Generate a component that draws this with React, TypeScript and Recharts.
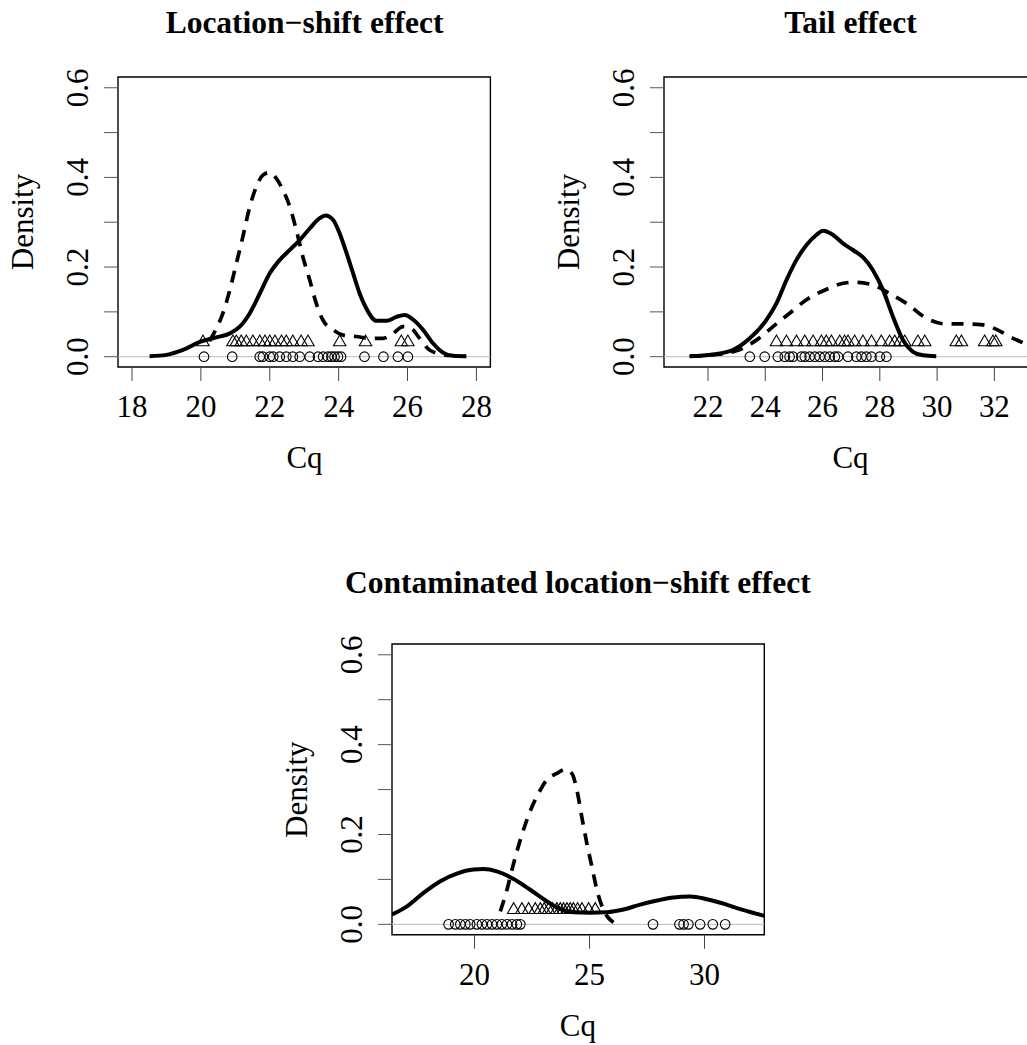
import React from 'react';
import { ComposedChart, Line, Scatter, XAxis, YAxis, ReferenceLine, ReferenceArea } from 'recharts';

// ---------- data ----------
const p1Title = 'Location\u2212shift effect';
const p2Title = 'Tail effect';
const p3Title = 'Contaminated location\u2212shift effect';
const xLabel = 'Cq';
const yLabel = 'Density';

const yTicks = [0, 0.1, 0.2, 0.3, 0.4, 0.5, 0.6];
const p1XTicks = [18, 20, 22, 24, 26, 28];
const p2XTicks = [22, 24, 26, 28, 30, 32];
const p3XTicks = [20, 25, 30];

const p1Solid = [[18.51,0.001],[19.0,0.004],[19.48,0.015],[19.97,0.033],[20.45,0.043],[20.84,0.052],[21.13,0.067],[21.42,0.097],[21.71,0.141],[22.0,0.186],[22.29,0.216],[22.58,0.238],[22.87,0.26],[23.16,0.286],[23.45,0.309],[23.62,0.315],[23.84,0.305],[24.03,0.275],[24.23,0.231],[24.42,0.186],[24.61,0.141],[24.8,0.108],[25.1,0.08],[25.39,0.08],[25.68,0.089],[25.92,0.093],[26.16,0.083],[26.45,0.06],[26.74,0.03],[27.03,0.009],[27.32,0.002],[27.71,0.001]];
const p1Dashed = [[20.25,0.035],[20.45,0.063],[20.64,0.097],[20.84,0.149],[21.03,0.208],[21.22,0.268],[21.42,0.335],[21.61,0.379],[21.8,0.405],[22.0,0.411],[22.19,0.398],[22.38,0.372],[22.58,0.335],[22.77,0.283],[22.96,0.223],[23.16,0.171],[23.35,0.119],[23.54,0.082],[23.84,0.06],[24.13,0.048],[24.51,0.045],[24.9,0.041],[25.29,0.041],[25.58,0.052],[25.87,0.067],[26.11,0.063],[26.35,0.041],[26.64,0.015],[27.2,0.002]];
const p1Circles = [20.09,20.91,21.71,21.8,22.0,22.1,22.29,22.48,22.67,22.87,23.16,23.4,23.55,23.69,23.79,23.88,23.98,24.07,24.75,25.3,25.72,26.01];
const p1Triangles = [20.06,20.93,21.03,21.17,21.32,21.51,21.71,21.86,22.0,22.15,22.34,22.48,22.67,22.91,23.11,24.03,24.78,25.82,26.01];

const p2Solid = [[21.36,0.001],[22.17,0.005],[22.87,0.015],[23.46,0.041],[24.04,0.082],[24.39,0.119],[24.74,0.171],[25.09,0.216],[25.44,0.249],[25.79,0.272],[26.02,0.281],[26.36,0.272],[26.71,0.253],[27.06,0.238],[27.41,0.222],[27.76,0.193],[28.11,0.149],[28.46,0.089],[28.81,0.037],[29.16,0.011],[29.51,0.003],[29.97,0.001]];
const p2Dashed = [[21.36,0.001],[22.17,0.004],[22.99,0.013],[23.69,0.037],[24.27,0.067],[24.85,0.097],[25.44,0.127],[26.13,0.15],[26.83,0.165],[27.18,0.166],[27.76,0.16],[28.34,0.141],[28.93,0.119],[29.62,0.086],[30.32,0.073],[31.02,0.073],[31.6,0.071],[32.07,0.061],[32.53,0.045],[33.0,0.031],[33.4,0.02]];
const p2Circles = [23.46,23.98,24.44,24.68,24.85,24.97,25.26,25.38,25.55,25.73,25.9,26.08,26.25,26.43,26.54,26.89,27.18,27.36,27.53,27.71,28.0,28.23];
const p2Triangles = [24.39,24.74,25.09,25.38,25.67,25.96,26.13,26.31,26.6,26.77,26.89,27.12,27.41,27.71,28.05,28.34,28.52,28.69,28.87,29.33,29.57,30.67,30.85,31.66,31.95,32.05];

const p3Solid = [[16.41,0.022],[17.06,0.04],[17.78,0.07],[18.51,0.096],[19.23,0.113],[19.96,0.122],[20.39,0.123],[20.97,0.118],[21.7,0.101],[22.42,0.077],[23.15,0.051],[23.73,0.034],[24.3,0.027],[25.03,0.026],[25.75,0.027],[26.48,0.033],[27.2,0.044],[27.93,0.053],[28.65,0.06],[29.38,0.062],[30.1,0.056],[30.83,0.046],[31.55,0.034],[32.6,0.019]];
const p3Dashed = [[21.12,0.029],[21.41,0.077],[21.7,0.136],[21.99,0.188],[22.28,0.233],[22.57,0.27],[22.86,0.299],[23.15,0.322],[23.58,0.336],[23.94,0.345],[24.23,0.336],[24.45,0.299],[24.66,0.24],[24.88,0.181],[25.1,0.129],[25.32,0.077],[25.6,0.033],[26.04,0.004]];
const p3Circles = [18.87,19.16,19.38,19.6,19.81,20.1,20.32,20.54,20.76,20.97,21.19,21.41,21.63,21.84,21.99,27.76,28.91,29.09,29.3,29.81,30.36,30.9];
const p3Triangles = [21.7,22.06,22.35,22.64,22.86,23.03,23.22,23.39,23.58,23.73,23.87,24.02,24.16,24.3,24.48,24.67,24.96,25.25];

const CIRCLE_Y = 0;
const TRIANGLE_Y = 0.035;

// ---------- layout ----------
const Y_DOMAIN: [number, number] = [-0.023, 0.624];
const FONT = "'Liberation Serif', 'Times New Roman', serif";
const FS = 31;

const toXY = (a: number[][]) => a.map(([x, y]) => ({ x, y }));
const rug = (xs: number[], y: number) => xs.map((x) => ({ x, y }));

const XTick = (props: any) => {
  const { x, y, payload } = props;
  return (
    <text x={x} y={y + 34} textAnchor="middle" fontFamily={FONT} fontSize={FS} fill="#000">
      {payload.value}
    </text>
  );
};

const YTick = (props: any) => {
  const { x, y, payload } = props;
  const v = payload.value as number;
  const k = Math.round(v * 10);
  const label = k % 2 === 0 ? v.toFixed(1) : '';
  return (
    <text x={x} y={y} transform={`rotate(-90 ${x} ${y})`} textAnchor="middle" fontFamily={FONT} fontSize={FS} fill="#000">
      {label}
    </text>
  );
};

const CircleShape = (props: any) => {
  const { cx, cy } = props;
  if (cx == null || cy == null) return null;
  return <circle cx={cx} cy={cy} r={4.8} fill="none" stroke="#000" strokeWidth={1.1} />;
};

const TriangleShape = (props: any) => {
  const { cx, cy } = props;
  if (cx == null || cy == null) return null;
  const hw = 6.2;
  const d = `M${cx - hw},${cy + 4.8} L${cx + hw},${cy + 4.8} L${cx},${cy - 6} Z`;
  return <path d={d} fill="none" stroke="#000" strokeWidth={1.1} />;
};

type Box = { l: number; t: number; w: number; h: number };

const Panel = ({ box, xDomain, xTicks, solid, dashed, circles, triangles }: {
  box: Box; xDomain: [number, number]; xTicks: number[];
  solid: number[][]; dashed: number[][]; circles: number[]; triangles: number[];
}) => {
  const chartW = box.w + 160;
  const chartH = box.h + 190;
  return (
    <div style={{ position: 'absolute', left: box.l - 120, top: box.t - 80 }}>
      <ComposedChart width={chartW} height={chartH} margin={{ top: 80, left: 60, right: 40, bottom: 50 }}>
        <XAxis type="number" dataKey="x" domain={xDomain} ticks={xTicks} allowDataOverflow interval={0}
          axisLine={false} tickSize={14} tickMargin={2} tickLine={{ stroke: '#444', strokeWidth: 1 }} tick={XTick} height={60} />
        <YAxis type="number" domain={Y_DOMAIN} ticks={yTicks} allowDataOverflow interval={0}
          axisLine={false} tickSize={14} tickMargin={16} tickLine={{ stroke: '#555', strokeWidth: 1 }} tick={YTick} width={60} />
        <ReferenceLine y={0} stroke="#bdbdbd" strokeWidth={1} />
        <Line data={toXY(solid)} dataKey="y" type="monotone" stroke="#000" strokeWidth={4} dot={false}
          isAnimationActive={false} />
        <Line data={toXY(dashed)} dataKey="y" type="monotone" stroke="#000" strokeWidth={3.7} strokeDasharray="12 9"
          dot={false} isAnimationActive={false} />
        <Scatter data={rug(circles, CIRCLE_Y)} dataKey="y" shape={CircleShape} isAnimationActive={false} />
        <Scatter data={rug(triangles, TRIANGLE_Y)} dataKey="y" shape={TriangleShape} isAnimationActive={false} />
        <ReferenceArea x1={xDomain[0]} x2={xDomain[1]} y1={Y_DOMAIN[0]} y2={Y_DOMAIN[1]} fill="none"
          stroke="#000" strokeWidth={1.4} ifOverflow="visible" />
      </ComposedChart>
    </div>
  );
};

const B1: Box = { l: 118.3, t: 77, w: 372.4, h: 290 };
const B2: Box = { l: 664.3, t: 77, w: 372.4, h: 290 };
const B3: Box = { l: 391.7, t: 644.3, w: 372.3, h: 290.7 };

const Labels = ({ box, title, titleY }: { box: Box; title: string; titleY: number }) => {
  const cx = box.l + box.w / 2;
  const dx = box.l - 85;
  const dy = box.t + box.h / 2;
  return (
    <g>
      <text x={cx} y={titleY} textAnchor="middle" fontFamily={FONT} fontWeight="bold" fontSize={31.5} fill="#000">{title}</text>
      <text x={cx} y={box.t + box.h + 101} textAnchor="middle" fontFamily={FONT} fontSize={FS} fill="#000">{xLabel}</text>
      <text x={dx} y={dy} transform={`rotate(-90 ${dx} ${dy})`} textAnchor="middle" fontFamily={FONT} fontSize={FS} fill="#000">{yLabel}</text>
    </g>
  );
};

export default function App() {
  return (
    <div style={{ position: 'absolute', left: 0, top: 0, width: 1027, height: 1045, overflow: 'hidden', background: '#fff' }}>
      <Panel box={B1} xDomain={[17.593, 28.406]} xTicks={p1XTicks} solid={p1Solid} dashed={p1Dashed} circles={p1Circles} triangles={p1Triangles} />
      <Panel box={B2} xDomain={[20.464, 33.467]} xTicks={p2XTicks} solid={p2Solid} dashed={p2Dashed} circles={p2Circles} triangles={p2Triangles} />
      <Panel box={B3} xDomain={[16.41, 32.6]} xTicks={p3XTicks} solid={p3Solid} dashed={p3Dashed} circles={p3Circles} triangles={p3Triangles} />
      <svg width={1027} height={1045} style={{ position: 'absolute', left: 0, top: 0, pointerEvents: 'none' }}>
        <Labels box={B1} title={p1Title} titleY={32.7} />
        <Labels box={B2} title={p2Title} titleY={32.7} />
        <Labels box={B3} title={p3Title} titleY={592.7} />
      </svg>
    </div>
  );
}
